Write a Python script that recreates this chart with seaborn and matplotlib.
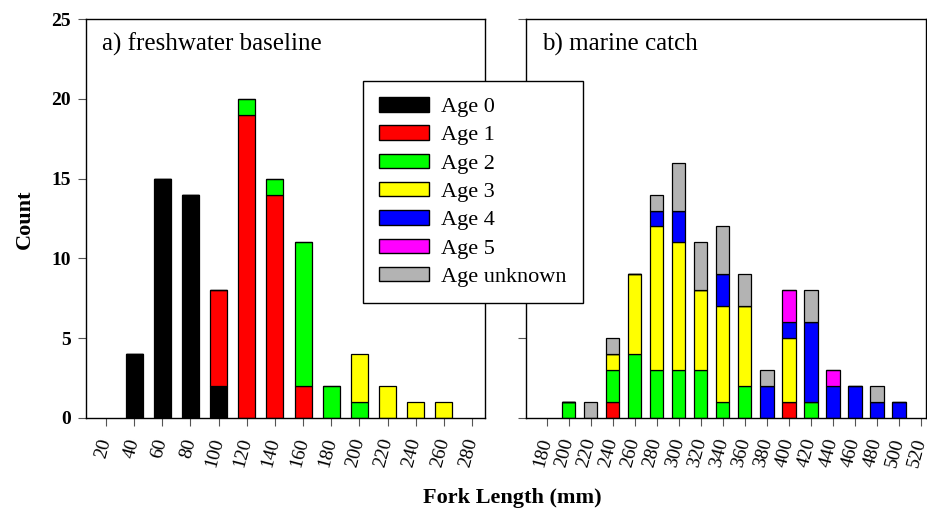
import numpy as np
import pandas as pd
import matplotlib
matplotlib.use("Agg")
import matplotlib.pyplot as plt
from matplotlib.patches import Patch
import seaborn as sns

sns.set_style("ticks")
plt.rcParams['font.family'] = ['Liberation Serif', 'DejaVu Serif']
plt.rcParams['text.color'] = 'black'
plt.rcParams['xtick.labelcolor'] = 'black'
plt.rcParams['ytick.labelcolor'] = 'black'

ages = ['Age 0', 'Age 1', 'Age 2', 'Age 3', 'Age 4', 'Age 5', 'Age unknown']
colors = ['#000000', '#ff0000', '#00ff00', '#ffff00', '#0000ff', '#ff00ff', '#b3b3b3']

# freshwater baseline, fork length bins (mm)
fw_length = [40, 60, 80, 100, 120, 140, 160, 180, 200, 220, 240, 260]
fw_age0 = [4, 15, 14, 2, 0, 0, 0, 0, 0, 0, 0, 0]
fw_age1 = [0, 0, 0, 6, 19, 14, 2, 0, 0, 0, 0, 0]
fw_age2 = [0, 0, 0, 0, 1, 1, 9, 2, 1, 0, 0, 0]
fw_age3 = [0, 0, 0, 0, 0, 0, 0, 0, 3, 2, 1, 1]

# marine catch
mc_length = [200, 220, 240, 260, 280, 300, 320, 340, 360, 380, 400, 420, 440, 460, 480, 500]
mc_age1 = [0, 0, 1, 0, 0, 0, 0, 0, 0, 0, 1, 0, 0, 0, 0, 0]
mc_age2 = [1, 0, 2, 4, 3, 3, 3, 1, 2, 0, 0, 1, 0, 0, 0, 0]
mc_age3 = [0, 0, 1, 5, 9, 8, 5, 6, 5, 0, 4, 0, 0, 0, 0, 0]
mc_age4 = [0, 0, 0, 0, 1, 2, 0, 2, 0, 2, 1, 5, 2, 2, 1, 1]
mc_age5 = [0, 0, 0, 0, 0, 0, 0, 0, 0, 0, 2, 0, 1, 0, 0, 0]
mc_unk = [0, 1, 1, 0, 1, 3, 3, 3, 2, 1, 0, 2, 0, 0, 1, 0]

fw_ticks = list(range(20, 281, 20))
mc_ticks = list(range(180, 521, 20))


def long_form(lengths, series):
    rows = []
    for age, vals in series.items():
        for L, v in zip(lengths, vals):
            rows.append({'length': L, 'age': age, 'count': v})
    return pd.DataFrame(rows)


fw = long_form(fw_length, {'Age 0': fw_age0, 'Age 1': fw_age1,
                           'Age 2': fw_age2, 'Age 3': fw_age3})
mc = long_form(mc_length, {'Age 1': mc_age1, 'Age 2': mc_age2, 'Age 3': mc_age3,
                           'Age 4': mc_age4, 'Age 5': mc_age5, 'Age unknown': mc_unk})

pal = dict(zip(ages, colors))

fig = plt.figure(figsize=(9.28, 5.11), dpi=100)
ax1 = fig.add_axes([86 / 928, 1 - 418 / 511, 399 / 928, 399 / 511])
ax2 = fig.add_axes([526 / 928, 1 - 418 / 511, 400 / 928, 399 / 511])

for ax, df, lengths in [(ax1, fw, fw_length), (ax2, mc, mc_length)]:
    present = [a for a in ages if a in df['age'].unique()]
    # seaborn stacks the first hue level on top, so reverse the order
    sns.histplot(data=df, x='length', weights='count', hue='age',
                 hue_order=present[::-1], palette=pal, multiple='stack',
                 binwidth=20, binrange=(lengths[0] - 10, lengths[-1] + 10),
                 shrink=0.6, alpha=1, edgecolor='black',
                 linewidth=0.9, legend=False, ax=ax)
    ax.set_ylim(0, 25)
    ax.set_yticks(range(0, 26, 5))
    ax.set_xlabel('')
    ax.set_ylabel('')
    for s in ax.spines.values():
        s.set_linewidth(1.0)
        s.set_color('black')
    ax.tick_params(axis='both', direction='out', length=6, width=0.8, color='#555555')
    ax.tick_params(axis='y', pad=5)
    ax.tick_params(axis='x', pad=9)

ax1.set_xlim(5.8, 289.2)
ax2.set_xlim(161.2, 524.5)
ax1.set_xticks(fw_ticks)
ax2.set_xticks(mc_ticks)
for ax, ticks in [(ax1, fw_ticks), (ax2, mc_ticks)]:
    ax.set_xticklabels([str(t) for t in ticks], rotation=75, ha='right',
                       va='center', rotation_mode='anchor', fontsize=14)
ax1.set_yticklabels([str(t) for t in range(0, 26, 5)], fontsize=14, fontweight='bold')
ax2.set_yticklabels([])

ax1.text(0.04, 0.965, 'a) freshwater baseline', transform=ax1.transAxes,
         fontsize=18, va='top', ha='left')
ax2.text(0.04, 0.965, 'b) marine catch', transform=ax2.transAxes,
         fontsize=18, va='top', ha='left')

fig.text(25 / 928, 1 - 219 / 511, 'Count', rotation=90, fontsize=16,
         fontweight='bold', ha='center', va='center')
fig.text(512 / 928, 1 - 498 / 511, 'Fork Length (mm)', fontsize=16,
         fontweight='bold', ha='center', va='center')

handles = [Patch(facecolor=c, edgecolor='black', linewidth=1) for c in colors]
leg = fig.legend(handles, ages, loc='upper left',
                 bbox_to_anchor=(363 / 928, 1 - 81 / 511), borderaxespad=0,
                 fontsize=16, frameon=True, fancybox=False, edgecolor='black',
                 framealpha=1, handlelength=2.25, handleheight=0.63,
                 labelspacing=0.37, borderpad=0.72, handletextpad=0.55)
leg.get_frame().set_linewidth(1.0)

fig.savefig('out.png', dpi=100)
